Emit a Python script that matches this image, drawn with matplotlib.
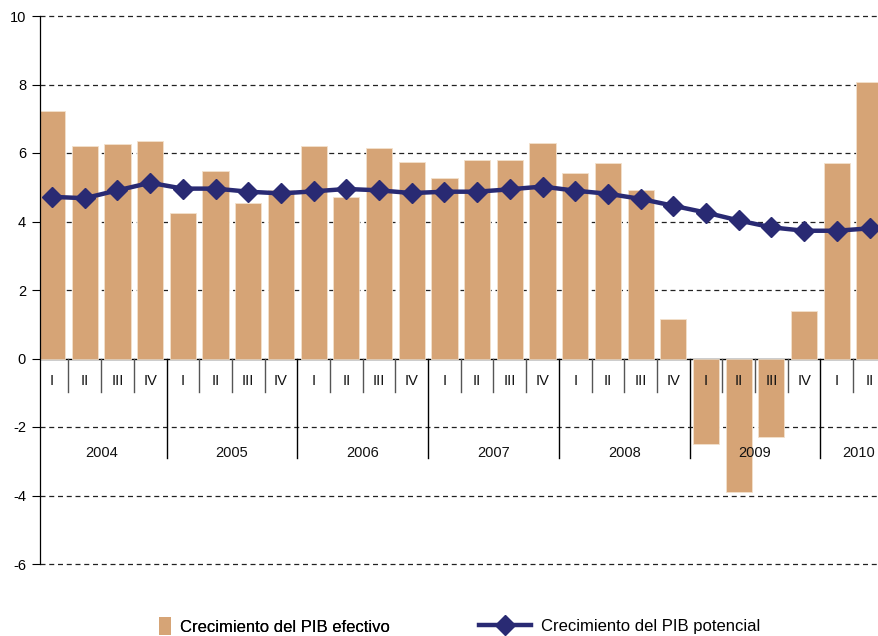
#!/usr/bin/env python3
"""
Crecimiento del PIB efectivo vs potencial, trimestral 2004-2010.
"""

import matplotlib
matplotlib.use('Agg')
import matplotlib.pyplot as plt
from matplotlib.lines import Line2D
from matplotlib.patches import Patch

plt.rcParams['font.family'] = ['Liberation Sans', 'DejaVu Sans']
plt.rcParams['axes.unicode_minus'] = False

# Quarterly data, 2004 I .. 2010 II
years = ['2004', '2005', '2006', '2007', '2008', '2009', '2010']
quarters = ['I', 'II', 'III', 'IV']
pib_efectivo = [7.22, 6.2, 6.27, 6.35,
                4.26, 5.48, 4.55, 4.93,
                6.2, 4.72, 6.14, 5.74,
                5.28, 5.8, 5.8, 6.29,
                5.42, 5.72, 4.93, 1.15,
                -2.5, -3.9, -2.3, 1.4,
                5.72, 8.07]
pib_potencial = [4.72, 4.68, 4.91, 5.13,
                 4.96, 4.96, 4.87, 4.82,
                 4.88, 4.95, 4.91, 4.83,
                 4.87, 4.87, 4.94, 5.02,
                 4.9, 4.81, 4.66, 4.46,
                 4.26, 4.03, 3.83, 3.73,
                 3.73, 3.8]

BAR_COLOR = '#D6A476'
LINE_COLOR = '#292A73'

n = len(pib_efectivo)
x = list(range(n))
qlabels = [quarters[i % 4] for i in range(n)]

fig = plt.figure(figsize=(8.79, 6.36), dpi=100)
ax = fig.add_axes([40 / 879, 1 - 564 / 636, 1 - 40 / 879, (564 - 16) / 636])

# gridlines
for g in range(-6, 11, 2):
    if g == 0:
        ax.axhline(0, color='black', linewidth=1.0, zorder=1)
    else:
        ax.axhline(g, color='#222222', linewidth=0.9, linestyle=(0, (4, 3)),
                   zorder=1, clip_on=False)

# separators for quarters and years
for i in range(n - 1):
    xb = i + 0.5
    if (i + 1) % 4 == 0:
        ax.plot([xb, xb], [0, -2.9], color='black', linewidth=1.0, zorder=1)
    else:
        ax.plot([xb, xb], [0, -0.97], color='#555555', linewidth=1.0, zorder=1)

ax.bar(x, pib_efectivo, width=0.8, color=BAR_COLOR, edgecolor='#F3E1CC',
       linewidth=0.6, zorder=2)
ax.plot(x, pib_potencial, color=LINE_COLOR, linewidth=3.2, marker='D',
        markersize=10, zorder=3)

# quarter and year labels
for i, q in enumerate(qlabels):
    ax.text(i, -0.65, q, ha='center', va='center', fontsize=10.5, color='#111111')
for k, yr in enumerate(years):
    start = 4 * k
    end = min(4 * k + 3, n - 1)
    xc = (start + end) / 2 if end - start == 3 else start + 0.67
    ax.text(xc, -2.75, yr, ha='center', va='center', fontsize=10.5, color='#111111')

ax.set_xlim(-0.37, (879 - 52) / 32.7)
ax.set_ylim(-6, 10)
ax.set_yticks(range(-6, 11, 2))
ax.set_xticks([])
ax.tick_params(axis='y', length=6, width=0.8, labelsize=10.5, pad=4)
for side in ['top', 'right', 'bottom']:
    ax.spines[side].set_visible(False)
ax.spines['left'].set_linewidth(0.9)

leg1 = fig.legend([Patch(facecolor=BAR_COLOR, edgecolor='none')],
                  ['Crecimiento del PIB efectivo'],
                  loc='center left', bbox_to_anchor=(159 / 879, 1 - 626 / 636),
                  frameon=False, fontsize=12, handlelength=0.75, handleheight=1.2,
                  handletextpad=0.5, borderpad=0, borderaxespad=0)
fig.add_artist(leg1)
fig.legend([Line2D([0], [0], color=LINE_COLOR, linewidth=3.2, marker='D', markersize=10)],
           ['Crecimiento del PIB potencial'],
           loc='center left', bbox_to_anchor=(479 / 879, 1 - 626 / 636),
           frameon=False, fontsize=12, handlelength=3.1,
           handletextpad=0.6, borderpad=0, borderaxespad=0)

fig.savefig('out.png', dpi=100)
